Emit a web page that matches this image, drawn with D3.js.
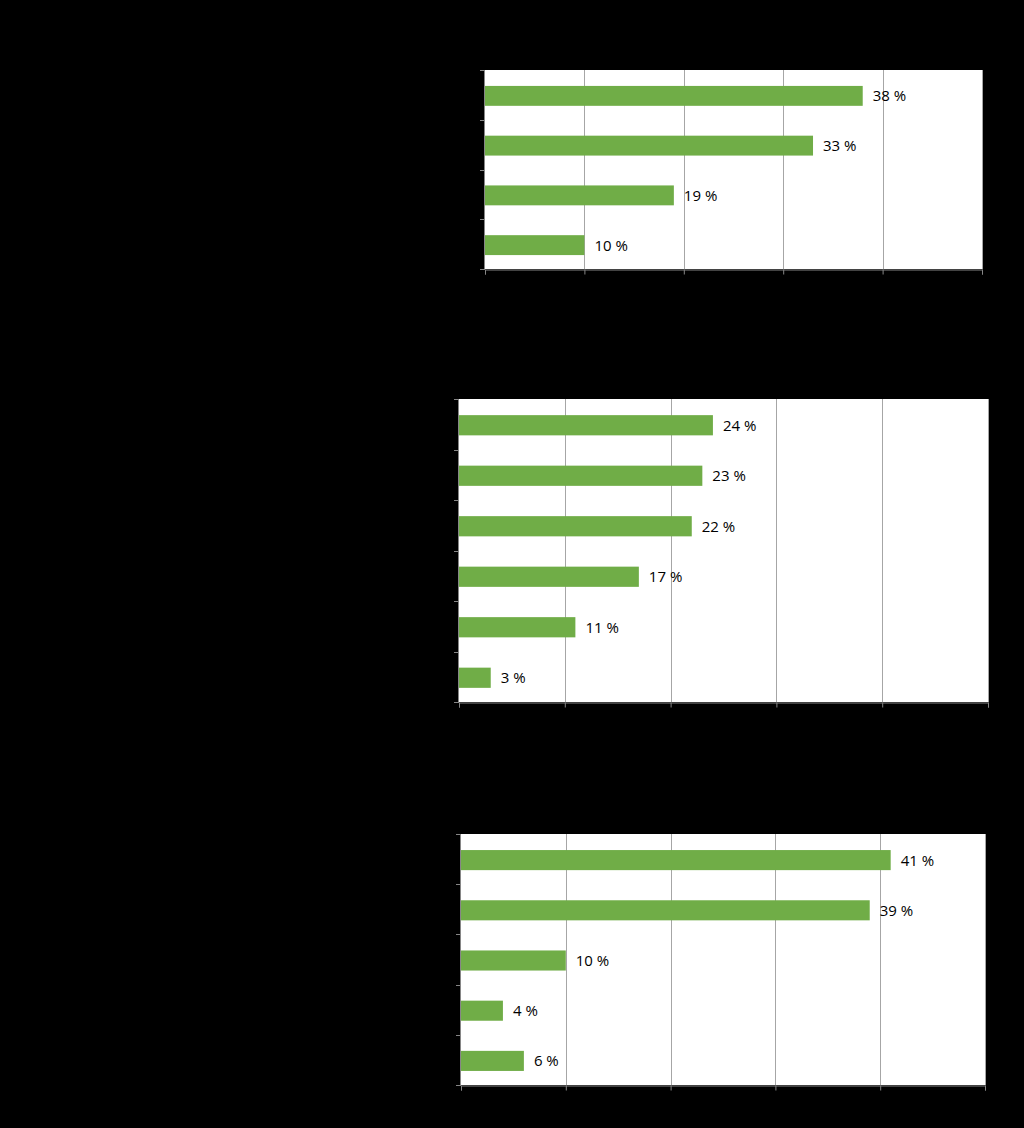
<!DOCTYPE html>
<html lang="fi">
<head>
    <meta charset="UTF-8">
    <script src="https://cdn.jsdelivr.net/npm/d3@7"></script>
    <title>Bar charts</title>
    <style>
        html, body {
            margin: 0;
            padding: 0;
            background-color: #000;
        }
        svg { display: block; }
    </style>
</head>
<body>
    <div id="chart"></div>
    <script>
        // values per panel (percent); category labels are not readable in the source (black on black)
        let values1 = [38, 33, 19, 10];
        let values2 = [24, 23, 22, 17, 11, 3];
        let values3 = [41, 39, 10, 4, 6];

        let categories1 = ['1', '2', '3', '4'];
        let categories2 = ['1', '2', '3', '4', '5', '6'];
        let categories3 = ['1', '2', '3', '4', '5'];

        let xTicks = [0, 10, 20, 30, 40, 50];

        let width = 1024;
        let height = 1128;

        let svg = d3.select('#chart').append('svg')
            .attr('width', width)
            .attr('height', height)
            .style('background', '#000');

        let panels = [
            {cats: categories1, vals: values1, x0: 485, x1: 982, y0: 70, y1: 269},
            {cats: categories2, vals: values2, x0: 459, x1: 988, y0: 399, y1: 702},
            {cats: categories3, vals: values3, x0: 461, x1: 985, y0: 834, y1: 1085}
        ];

        panels.forEach(p => {
            let g = svg.append('g');

            let x = d3.scaleLinear().domain([0, 50]).range([p.x0, p.x1]);
            let y = d3.scaleBand().domain(p.cats).range([p.y0, p.y1])
                .paddingInner(0.6).paddingOuter(0.3);

            // plot area
            g.append('rect')
                .attr('x', p.x0).attr('y', p.y0)
                .attr('width', p.x1 - p.x0).attr('height', p.y1 - p.y0)
                .attr('fill', '#fff');

            // gridlines
            g.selectAll('line.grid')
                .data(xTicks.slice(1))
                .join('line')
                .attr('class', 'grid')
                .attr('x1', d => Math.round(x(d)) + 0.5).attr('x2', d => Math.round(x(d)) + 0.5)
                .attr('y1', p.y0).attr('y2', p.y1)
                .attr('stroke', '#a6a6a6')
                .attr('stroke-width', 1);

            // bars
            g.selectAll('rect.bar')
                .data(p.vals)
                .join('rect')
                .attr('class', 'bar')
                .attr('x', x(0))
                .attr('y', (d, i) => y(p.cats[i]) + 1)
                .attr('width', d => x(d) - x(0))
                .attr('height', y.bandwidth())
                .attr('fill', '#70ad47');

            // value labels
            g.selectAll('text.lbl')
                .data(p.vals)
                .join('text')
                .attr('class', 'lbl')
                .attr('x', d => x(d) + 10)
                .attr('y', (d, i) => y(p.cats[i]) + 1 + y.bandwidth() / 2)
                .attr('dy', '0.36em')
                .attr('font-family', '"Open Sans", sans-serif')
                .attr('font-size', '15px')
                .attr('fill', '#000')
                .text(d => `${d} %`);

            // x axis (tick labels are black on black, as in the source)
            let xAxis = g.append('g')
                .attr('transform', `translate(0,${p.y1 + 0.5})`)
                .call(d3.axisBottom(x).tickValues(xTicks).tickSize(5).tickFormat(d => `${d} %`));
            xAxis.select('.domain').attr('stroke', '#868686');
            xAxis.selectAll('.tick line').attr('stroke', '#868686');
            xAxis.selectAll('.tick text').attr('fill', '#000')
                .attr('font-family', '"Open Sans", sans-serif').attr('font-size', '12px');

            // y axis with ticks on band boundaries
            let bounds = p.cats.map(c => y(c) - y.step() * 0.3).concat([p.y1]);
            let yAxis = g.append('g');
            yAxis.append('line')
                .attr('x1', p.x0 - 0.5).attr('x2', p.x0 - 0.5)
                .attr('y1', p.y0).attr('y2', p.y1)
                .attr('stroke', '#868686');
            yAxis.selectAll('line.tk')
                .data(bounds)
                .join('line')
                .attr('class', 'tk')
                .attr('x1', p.x0 - 5).attr('x2', p.x0)
                .attr('y1', d => Math.round(d) + 0.5).attr('y2', d => Math.round(d) + 0.5)
                .attr('stroke', '#868686');
        });
    </script>
</body>
</html>
